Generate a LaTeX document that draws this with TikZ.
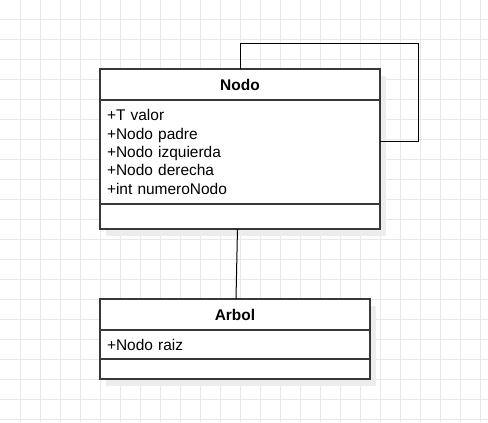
\documentclass[tikz,border=0pt]{standalone}
\usepackage{fontspec}
\setmainfont{Liberation Sans}
\usetikzlibrary{backgrounds}
\begin{document}
\begin{tikzpicture}[x=0.75pt,y=-0.75pt,line join=miter,
		gridline/.style={draw=black!9,line width=0.75pt},
		umlbox/.style={draw=black!78,line width=1.1pt,fill=white,anchor=north west,inner sep=0pt,outer sep=0pt,font=\fontsize{11.6}{13.75}\selectfont},
		umlhead/.style={umlbox,font=\fontsize{11.6}{13.75}\selectfont\bfseries},
		umlattr/.style={umlbox,align=left,inner xsep=5.25pt},
		umlshadow/.style={fill=black!7},
		assoc/.style={draw=black,line width=0.75pt}]
			\useasboundingbox (0,0) rectangle (488,422);
			% clase Nodo
			\node[umlhead,minimum width=210pt,minimum height=23.25pt] (nodo) at (100,69) {Nodo};
			\node[umlattr,text width=199.5pt,minimum height=78pt] (nodoattr) at (nodo.south west) {+T valor\\+Nodo padre\\+Nodo izquierda\\+Nodo derecha\\+int numeroNodo};
			\node[umlbox,minimum width=210pt,minimum height=18.75pt] (nodometh) at (nodoattr.south west) {};
			% clase Arbol
			\node[umlhead,minimum width=202.5pt,minimum height=23.25pt] (arbol) at (100,299) {Arbol};
			\node[umlattr,text width=192pt,minimum height=21.75pt] (arbolattr) at (arbol.south west) {+Nodo raiz};
			\node[umlbox,minimum width=202.5pt,minimum height=15pt] (arbolmeth) at (arbolattr.south west) {};
			% relaciones
			\draw[assoc] (nodo.north) |- (418,43) -- (418,141) -- (nodoattr.east |- 418,141);
			\draw[assoc] ([xshift=-1.9pt]nodometh.south) -- ([xshift=0.75pt]arbol.north);
			\begin{scope}[on background layer]
				\fill[white] (0,0) rectangle (488,422);
				\foreach \gx in {20,40,...,480} \draw[gridline] (\gx,0) -- (\gx,422);
				\foreach \gy in {19,39,...,419} \draw[gridline] (0,\gy) -- (488,\gy);
				\fill[umlshadow] ([shift={(6,7)}]nodo.north west) rectangle ([shift={(6,7)}]nodometh.south east);
				\fill[umlshadow] ([shift={(6,7)}]arbol.north west) rectangle ([shift={(6,7)}]arbolmeth.south east);
			\end{scope}
		\end{tikzpicture}
\end{document}
